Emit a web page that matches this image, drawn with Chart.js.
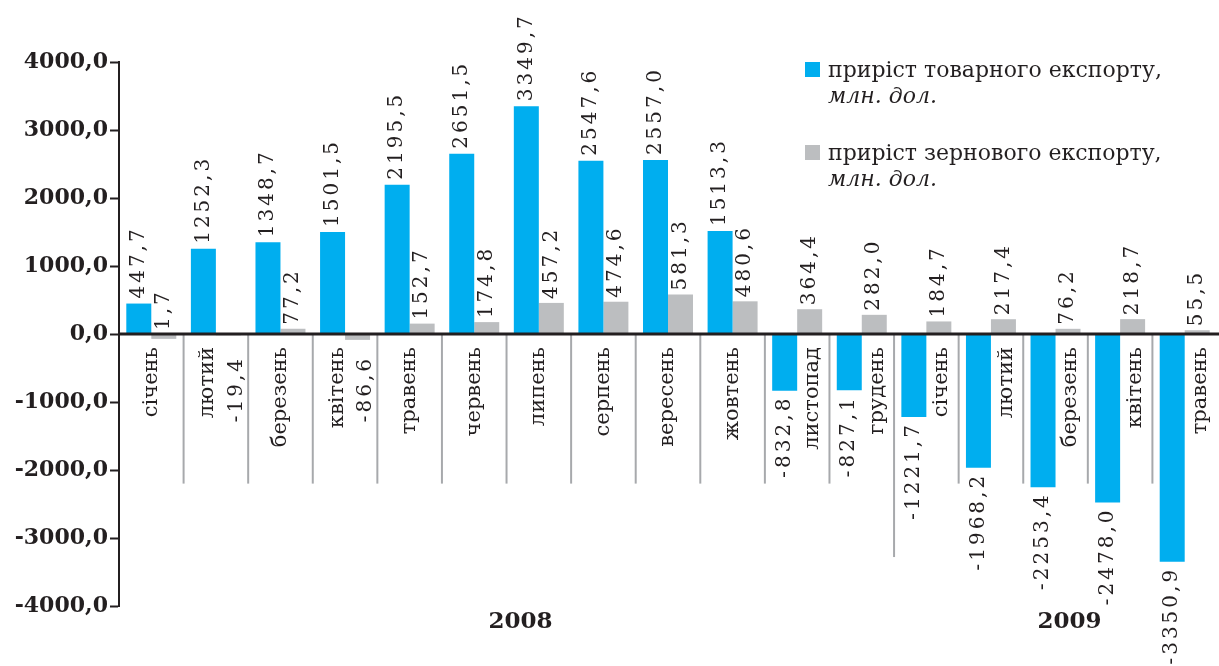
<!DOCTYPE html>
<html>
<head>
<meta charset="utf-8">
<script src="https://cdn.jsdelivr.net/npm/chart.js@4"></script>
<style>
  html, body { margin: 0; padding: 0; background: #fff; }
  #wrap { width: 1219px; height: 666px; }
</style>
</head>
<body>
<div id="wrap"><canvas id="chart" width="1219" height="666"></canvas></div>
<script>
/* DATA */
const months = ["січень", "лютий", "березень", "квітень", "травень", "червень", "липень",
  "серпень", "вересень", "жовтень", "листопад", "грудень",
  "січень", "лютий", "березень", "квітень", "травень"];
const years = ["2008", "2009"];
const yearSpans = [[0, 11], [12, 16]];

const goodsExport = [447.7, 1252.3, 1348.7, 1501.5, 2195.5, 2651.5, 3349.7, 2547.6, 2557.0,
  1513.3, -832.8, -827.1, -1221.7, -1968.2, -2253.4, -2478.0, -3350.9];
const grainExport = [-71.7, -19.4, 77.2, -86.6, 152.7, 174.8, 457.2, 474.6, 581.3,
  480.6, 364.4, 282.0, 184.7, 217.4, 76.2, 218.7, 55.5];
// grain labels as printed on the picture
const grainLabels = ["1,7", "-19,4", "77,2", "-86,6", "152,7", "174,8", "457,2", "474,6", "581,3",
  "480,6", "364,4", "282,0", "184,7", "217,4", "76,2", "218,7", "55,5"];

const yTicks = [-4000, -3000, -2000, -1000, 0, 1000, 2000, 3000, 4000];
const legendTexts = [
  ["приріст товарного експорту,", "млн. дол."],
  ["приріст зернового експорту,", "млн. дол."]
];

const BLUE = "#00AEEF";
const GREY = "#BCBEC0";
const INK = "#231F20";
const SERIF = '"DejaVu Serif", "Liberation Serif", serif';

const fmt = v => v.toFixed(1).replace(".", ",");

/* drawing helpers */
function vText(ctx, txt, x, y, align) {
  ctx.save();
  ctx.translate(x, y);
  ctx.rotate(-Math.PI / 2);
  ctx.textAlign = align;
  ctx.textBaseline = "middle";
  ctx.fillText(txt, 0, 0);
  ctx.restore();
}

const decor = {
  id: "decor",
  afterDatasetsDraw(chart) {
    const ctx = chart.ctx;
    const area = chart.chartArea;
    const y = chart.scales.y;
    const x = chart.scales.x;
    const zero = y.getPixelForValue(0);
    const blue = chart.getDatasetMeta(0).data;
    const grey = chart.getDatasetMeta(1).data;

    /* separators */
    ctx.save();
    ctx.strokeStyle = "#A7A9AC";
    ctx.lineWidth = 2;
    for (let i = 1; i < months.length; i++) {
      const sx = (x.getPixelForValue(i - 1) + x.getPixelForValue(i)) / 2;
      const bottom = i === yearSpans[1][0] ? y.getPixelForValue(-3280) : y.getPixelForValue(-2200);
      ctx.beginPath();
      ctx.moveTo(sx, zero);
      ctx.lineTo(sx, bottom);
      ctx.stroke();
    }
    ctx.restore();

    /* zero line */
    ctx.save();
    ctx.strokeStyle = INK;
    ctx.lineWidth = 3;
    ctx.beginPath();
    ctx.moveTo(area.left, zero);
    ctx.lineTo(area.right + 2, zero);
    ctx.stroke();
    ctx.restore();

    ctx.save();
    ctx.fillStyle = INK;
    ctx.font = "20px " + SERIF;
    ctx.letterSpacing = "3px";

    /* value labels */
    goodsExport.forEach((v, i) => {
      const b = blue[i];
      if (v >= 0) vText(ctx, fmt(v), b.x, b.y - 5, "left");
      else vText(ctx, fmt(v), b.x, b.y + 5, "right");
    });
    grainLabels.forEach((t, i) => {
      const g = grey[i];
      if (t.startsWith("-")) vText(ctx, t, g.x + 8, zero + 22, "right");
      else vText(ctx, t, g.x, Math.min(g.y, zero) - 4, "left");
    });

    /* month labels */
    ctx.letterSpacing = "0px";
    ctx.font = "21px " + SERIF;
    months.forEach((m, i) => {
      let mx = x.getPixelForValue(i);
      if (goodsExport[i] < 0) mx = grey[i].x + 3;
      else if (grainLabels[i].startsWith("-")) mx = mx - 8;
      vText(ctx, m, mx, zero + 13, "right");
    });

    /* years */
    ctx.font = "bold 23px " + SERIF;
    ctx.textAlign = "center";
    ctx.textBaseline = "middle";
    years.forEach((yr, k) => {
      const [a, b] = yearSpans[k];
      const cx = (x.getPixelForValue(a) + x.getPixelForValue(b)) / 2 + 14;
      ctx.fillText(yr, cx, 622);
    });

    /* legend */
    const colors = [BLUE, GREY];
    legendTexts.forEach((lines, k) => {
      const top = 62 + k * 83;
      ctx.fillStyle = colors[k];
      ctx.fillRect(805, top, 15, 15);
      ctx.fillStyle = INK;
      ctx.textAlign = "left";
      ctx.textBaseline = "alphabetic";
      ctx.font = "22px " + SERIF;
      ctx.fillText(lines[0], 828, top + 15);
      ctx.font = "italic 22px " + SERIF;
      ctx.fillText(lines[1], 828, top + 41);
    });
    ctx.restore();
  }
};

new Chart(document.getElementById("chart"), {
  type: "bar",
  data: {
    labels: months,
    datasets: [
      { label: legendTexts[0].join(" "), data: goodsExport, backgroundColor: BLUE,
        categoryPercentage: 0.774, barPercentage: 1.0 },
      { label: legendTexts[1].join(" "), data: grainExport, backgroundColor: GREY,
        categoryPercentage: 0.774, barPercentage: 1.0 }
    ]
  },
  options: {
    responsive: false,
    animation: false,
    devicePixelRatio: 1,
    layout: { padding: { top: 62, bottom: 60, left: 0, right: 2 } },
    plugins: { legend: { display: false }, tooltip: { enabled: false } },
    scales: {
      x: { display: false, offset: true, grid: { display: false } },
      y: {
        min: -4000,
        max: 4000,
        afterBuildTicks: s => { s.ticks = yTicks.map(v => ({ value: v })); },
        afterFit: s => { s.width = 119; },
        ticks: {
          callback: v => fmt(v),
          color: INK,
          padding: 2,
          font: { family: SERIF, size: 22, weight: "bold" }
        },
        grid: { drawOnChartArea: false, drawTicks: true, tickLength: 9, tickWidth: 2, color: INK },
        border: { display: true, color: INK, width: 2 }
      }
    }
  },
  plugins: [decor]
});
</script>
</body>
</html>
